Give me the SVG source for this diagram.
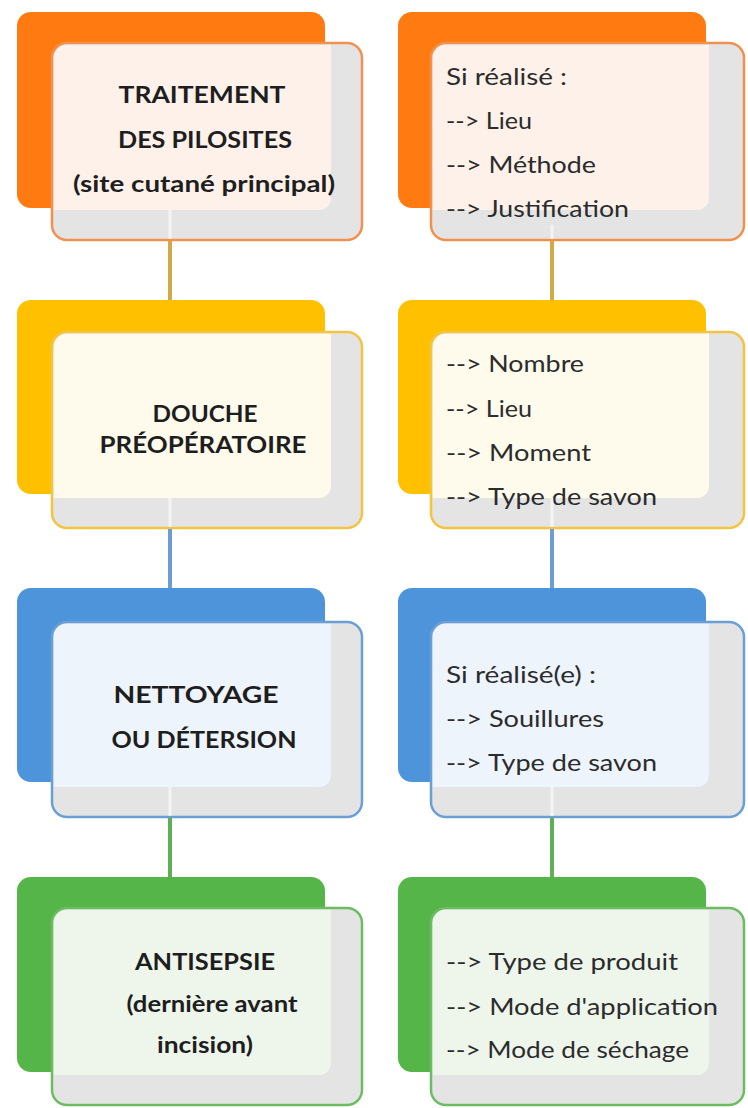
<svg xmlns="http://www.w3.org/2000/svg" width="748" height="1108" viewBox="0 0 748 1108">
<defs>
<style>
.bg{fill:#ffffff}
.lt{font-family:Lato,"Open Sans","Liberation Sans",sans-serif;font-weight:bold;font-size:22.5px;fill:#1e1e1e;text-anchor:middle}
.rt{font-family:Lato,"Open Sans","Liberation Sans",sans-serif;font-size:24px;fill:#2c2c2c}
.front{fill:#e4e4e4;stroke:none}
.frame{fill:none;stroke-width:2.5}
.o .back{fill:#ff7b12}.o .frame{stroke:#f0914f}.o .tint{fill:#fdf1ea}
.y .back{fill:#ffc000}.y .frame{stroke:#f2c442}.y .tint{fill:#fefaec}
.b .back{fill:#4d94da}.b .frame{stroke:#6a9fd6}.b .tint{fill:#eef4fb}
.g .back{fill:#55b548}.g .frame{stroke:#6cbd62}.g .tint{fill:#eef6ec}
.c{stroke-width:4;fill:none}
.cf{stroke:#ffffff;stroke-opacity:0.6;stroke-width:3;fill:none}
</style>
</defs>
<rect class="bg" x="0" y="0" width="748" height="1108"/>

<g id="n1-left" class="o">
<rect class="back" x="17" y="12" width="308" height="196" rx="14"/>
<rect class="front" x="52" y="43" width="310" height="197" rx="15"/>
<path class="tint" d="M53.5,58 a13.5,13.5 0 0 1 13.5,-13.5 H331 V198 a12,12 0 0 1 -12,12 H53.5 Z"/>
<rect class="frame" x="52" y="43" width="310" height="197" rx="15"/>
<text class="lt" x="202" y="103" textLength="167" lengthAdjust="spacingAndGlyphs">TRAITEMENT</text>
<text class="lt" x="205" y="148" textLength="174" lengthAdjust="spacingAndGlyphs">DES PILOSITES</text>
<text class="lt" x="204" y="192" textLength="262" lengthAdjust="spacingAndGlyphs">(site cutané principal)</text>
</g>
<g id="n1-right" class="o">
<rect class="back" x="398" y="12" width="308" height="196" rx="14"/>
<rect class="front" x="431" y="43" width="313" height="197" rx="15"/>
<path class="tint" d="M432.5,58 a13.5,13.5 0 0 1 13.5,-13.5 H709 V198 a12,12 0 0 1 -12,12 H432.5 Z"/>
<rect class="frame" x="431" y="43" width="313" height="197" rx="15"/>
<text class="rt" x="446" y="85" textLength="121" lengthAdjust="spacingAndGlyphs">Si réalisé :</text>
<text class="rt" x="446" y="129" textLength="86" lengthAdjust="spacingAndGlyphs">--&gt; Lieu</text>
<text class="rt" x="446" y="173" textLength="150" lengthAdjust="spacingAndGlyphs">--&gt; Méthode</text>
<text class="rt" x="446" y="217" textLength="183" lengthAdjust="spacingAndGlyphs">--&gt; Justification</text>
</g>

<g id="n2-left" class="y">
<rect class="back" x="17" y="300" width="308" height="194" rx="14"/>
<rect class="front" x="52" y="332" width="310" height="196" rx="15"/>
<path class="tint" d="M53.5,347 a13.5,13.5 0 0 1 13.5,-13.5 H331 V486 a12,12 0 0 1 -12,12 H53.5 Z"/>
<rect class="frame" x="52" y="332" width="310" height="196" rx="15"/>
<text class="lt" x="205" y="422" textLength="105" lengthAdjust="spacingAndGlyphs">DOUCHE</text>
<text class="lt" x="203" y="453" textLength="207" lengthAdjust="spacingAndGlyphs">PRÉOPÉRATOIRE</text>
</g>
<g id="n2-right" class="y">
<rect class="back" x="398" y="300" width="308" height="194" rx="14"/>
<rect class="front" x="431" y="332" width="313" height="196" rx="15"/>
<path class="tint" d="M432.5,347 a13.5,13.5 0 0 1 13.5,-13.5 H709 V486 a12,12 0 0 1 -12,12 H432.5 Z"/>
<rect class="frame" x="431" y="332" width="313" height="196" rx="15"/>
<text class="rt" x="446" y="372" textLength="138" lengthAdjust="spacingAndGlyphs">--&gt; Nombre</text>
<text class="rt" x="446" y="417" textLength="86" lengthAdjust="spacingAndGlyphs">--&gt; Lieu</text>
<text class="rt" x="446" y="461" textLength="145" lengthAdjust="spacingAndGlyphs">--&gt; Moment</text>
<text class="rt" x="446" y="505" textLength="211" lengthAdjust="spacingAndGlyphs">--&gt; Type de savon</text>
</g>

<g id="n3-left" class="b">
<rect class="back" x="17" y="588" width="308" height="194" rx="14"/>
<rect class="front" x="52" y="622" width="310" height="195" rx="15"/>
<path class="tint" d="M53.5,637 a13.5,13.5 0 0 1 13.5,-13.5 H331 V775 a12,12 0 0 1 -12,12 H53.5 Z"/>
<rect class="frame" x="52" y="622" width="310" height="195" rx="15"/>
<text class="lt" x="196" y="703" textLength="165" lengthAdjust="spacingAndGlyphs">NETTOYAGE</text>
<text class="lt" x="204" y="748" textLength="185" lengthAdjust="spacingAndGlyphs">OU DÉTERSION</text>
</g>
<g id="n3-right" class="b">
<rect class="back" x="398" y="588" width="308" height="194" rx="14"/>
<rect class="front" x="431" y="622" width="313" height="195" rx="15"/>
<path class="tint" d="M432.5,637 a13.5,13.5 0 0 1 13.5,-13.5 H709 V775 a12,12 0 0 1 -12,12 H432.5 Z"/>
<rect class="frame" x="431" y="622" width="313" height="195" rx="15"/>
<text class="rt" x="446" y="683" textLength="150" lengthAdjust="spacingAndGlyphs">Si réalisé(e) :</text>
<text class="rt" x="446" y="727" textLength="158" lengthAdjust="spacingAndGlyphs">--&gt; Souillures</text>
<text class="rt" x="446" y="771" textLength="211" lengthAdjust="spacingAndGlyphs">--&gt; Type de savon</text>
</g>

<g id="n4-left" class="g">
<rect class="back" x="17" y="877" width="308" height="195" rx="14"/>
<rect class="front" x="52" y="908" width="310" height="197" rx="15"/>
<path class="tint" d="M53.5,923 a13.5,13.5 0 0 1 13.5,-13.5 H331 V1063 a12,12 0 0 1 -12,12 H53.5 Z"/>
<rect class="frame" x="52" y="908" width="310" height="197" rx="15"/>
<text class="lt" x="205" y="970" textLength="140" lengthAdjust="spacingAndGlyphs">ANTISEPSIE</text>
<text class="lt" x="212" y="1012" textLength="171" lengthAdjust="spacingAndGlyphs">(dernière avant</text>
<text class="lt" x="205" y="1053" textLength="96" lengthAdjust="spacingAndGlyphs">incision)</text>
</g>
<g id="n4-right" class="g">
<rect class="back" x="398" y="877" width="308" height="195" rx="14"/>
<rect class="front" x="431" y="908" width="313" height="197" rx="15"/>
<path class="tint" d="M432.5,923 a13.5,13.5 0 0 1 13.5,-13.5 H709 V1063 a12,12 0 0 1 -12,12 H432.5 Z"/>
<rect class="frame" x="431" y="908" width="313" height="197" rx="15"/>
<text class="rt" x="446" y="970" textLength="232" lengthAdjust="spacingAndGlyphs">--&gt; Type de produit</text>
<text class="rt" x="446" y="1015" textLength="272" lengthAdjust="spacingAndGlyphs">--&gt; Mode d'application</text>
<text class="rt" x="446" y="1058" textLength="243" lengthAdjust="spacingAndGlyphs">--&gt; Mode de séchage</text>
</g>

<g id="connectors">
<line class="c" x1="170" y1="241" x2="170" y2="300" stroke="#d2aa48"/>
<line class="c" x1="552" y1="241" x2="552" y2="300" stroke="#d2aa48"/>
<line class="c" x1="170" y1="529" x2="170" y2="588" stroke="#6a9ed4"/>
<line class="c" x1="552" y1="529" x2="552" y2="588" stroke="#6a9ed4"/>
<line class="c" x1="170" y1="818" x2="170" y2="877" stroke="#5fb055"/>
<line class="c" x1="552" y1="818" x2="552" y2="877" stroke="#5fb055"/>
<line class="cf" x1="170" y1="210" x2="170" y2="239"/>
<line class="cf" x1="552" y1="225" x2="552" y2="239"/>
<line class="cf" x1="170" y1="498" x2="170" y2="527"/>
<line class="cf" x1="552" y1="498" x2="552" y2="527"/>
<line class="cf" x1="170" y1="787" x2="170" y2="816"/>
<line class="cf" x1="552" y1="787" x2="552" y2="816"/>
</g>
</svg>
